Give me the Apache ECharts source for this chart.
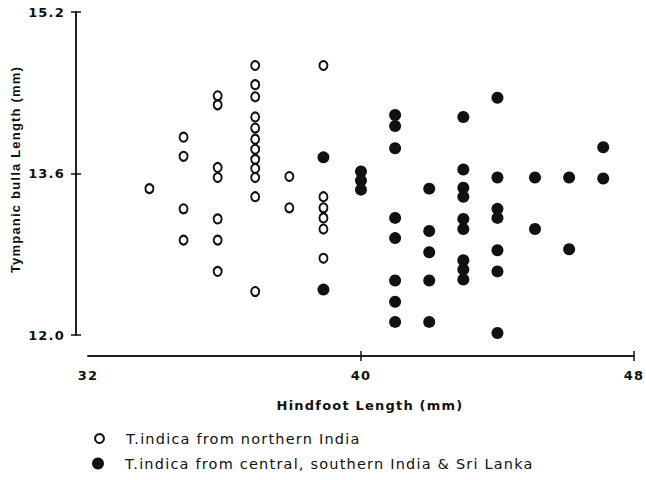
<!DOCTYPE html>
<html>
<head>
<meta charset="utf-8">
<script src="https://cdn.jsdelivr.net/npm/echarts@6/dist/echarts.min.js"></script>
<style>
  html, body { margin: 0; padding: 0; background: #fff; }
  #chart { width: 646px; height: 480px; }
  /* the scanned figure uses wide letter spacing */
  #chart text { letter-spacing: 1.2px; }
</style>
</head>
<body>
<div id="chart"></div>
<script>
// Hindfoot length (mm), tympanic bulla length (mm)
const northernIndia = [
  [33.8, 13.45],
  [34.8, 13.96], [34.8, 13.77], [34.8, 13.25], [34.8, 12.94],
  [35.8, 14.37], [35.8, 14.28], [35.8, 13.66], [35.8, 13.56], [35.8, 13.15], [35.8, 12.94], [35.8, 12.63],
  [36.9, 14.67], [36.9, 14.48], [36.9, 14.36], [36.9, 14.16], [36.9, 14.05], [36.9, 13.94],
  [36.9, 13.84], [36.9, 13.74], [36.9, 13.65], [36.9, 13.56], [36.9, 13.37], [36.9, 12.43],
  [37.9, 13.57], [37.9, 13.26],
  [38.9, 14.67], [38.9, 13.37], [38.9, 13.26], [38.9, 13.16], [38.9, 13.05], [38.9, 12.76]
];

const centralSouthernIndiaSriLanka = [
  [38.9, 13.76], [38.9, 12.45],
  [40.0, 13.62], [40.0, 13.53], [40.0, 13.44],
  [41.0, 14.18], [41.0, 14.07], [41.0, 13.85], [41.0, 13.16], [41.0, 12.96], [41.0, 12.54], [41.0, 12.33], [41.0, 12.13],
  [42.0, 13.45], [42.0, 13.03], [42.0, 12.82], [42.0, 12.54], [42.0, 12.13],
  [43.0, 14.16], [43.0, 13.64], [43.0, 13.46], [43.0, 13.37], [43.0, 13.15], [43.0, 13.05], [43.0, 12.74], [43.0, 12.65], [43.0, 12.55],
  [44.0, 14.35], [44.0, 13.56], [44.0, 13.25], [44.0, 13.16], [44.0, 12.84], [44.0, 12.63], [44.0, 12.02],
  [45.1, 13.56], [45.1, 13.05],
  [46.1, 13.56], [46.1, 12.85],
  [47.1, 13.86], [47.1, 13.55]
];

const seriesNames = [
  'T.indica from northern India',
  'T.indica from central, southern India & Sri Lanka'
];

const xTicks = [40, 48];

const font = 'DejaVu Sans';
const ink = '#111';

const chart = echarts.init(document.getElementById('chart'), null, { renderer: 'svg' });

const yBase = {
  type: 'value',
  position: 'left',
  offset: 12,
  min: 12.0,
  max: 15.2,
  interval: 1.6,
  splitLine: { show: false },
  axisLine: { show: true, lineStyle: { color: ink, width: 1.5 } },
};

const xBase = {
  type: 'value',
  position: 'bottom',
  offset: 21,
  min: 32,
  max: 48,
  interval: 8,
  splitLine: { show: false },
  axisLine: { show: true, onZero: false, lineStyle: { color: ink, width: 1.5 } },
};

const legendText = { fontFamily: font, fontSize: 14.5, color: ink };

chart.setOption({
  animation: false,
  backgroundColor: '#fff',
  grid: { left: 88, right: 8, top: 12, bottom: 145 },
  xAxis: [
    {
      ...xBase,
      name: 'Hindfoot Length (mm)',
      nameLocation: 'middle',
      nameGap: 43,
      nameTextStyle: { fontFamily: font, fontSize: 13, fontWeight: 'bold', color: ink, padding: [0, 0, 0, 18] },
      axisTick: { show: true, length: 5, customValues: xTicks, lineStyle: { color: ink, width: 1.5 } },
      axisLabel: { margin: 13, fontFamily: font, fontWeight: 'bold', fontSize: 13, color: ink },
    },
    {
      ...xBase,
      axisTick: { show: true, inside: true, length: 5, customValues: xTicks, lineStyle: { color: ink, width: 1.5 } },
      axisLabel: { show: false },
    },
  ],
  yAxis: [
    {
      ...yBase,
      name: 'Tympanic bulla Length (mm)',
      nameLocation: 'middle',
      nameGap: 54,
      nameTextStyle: { fontFamily: 'Liberation Sans', fontSize: 13, fontWeight: 'bold', color: ink, padding: [0, 0, 0, 8] },
      axisTick: { show: true, length: 5, lineStyle: { color: ink, width: 1.5 } },
      axisLabel: {
        margin: 11,
        fontFamily: font,
        fontWeight: 'bold',
        fontSize: 13,
        color: ink,
        formatter: v => v.toFixed(1),
      },
    },
    {
      ...yBase,
      axisTick: { show: true, inside: true, length: 5, lineStyle: { color: ink, width: 1.5 } },
      axisLabel: { show: false },
    },
  ],
  legend: [
    {
      left: 89,
      top: 426,
      itemWidth: 9,
      itemHeight: 9,
      textStyle: { ...legendText, padding: [0, 0, 0, 17] },
      data: [{ name: seriesNames[0], icon: 'circle', itemStyle: { color: '#fff', borderColor: ink, borderWidth: 2 } }],
    },
    {
      left: 87,
      top: 451,
      itemWidth: 12,
      itemHeight: 12,
      textStyle: { ...legendText, padding: [0, 0, 0, 16] },
      data: [{ name: seriesNames[1], icon: 'circle', itemStyle: { color: ink, borderWidth: 0 } }],
    },
  ],
  series: [
    {
      name: seriesNames[0],
      type: 'scatter',
      symbol: 'emptyCircle',
      symbolSize: [8, 9],
      itemStyle: { color: ink, borderWidth: 2, opacity: 1 },
      data: northernIndia,
    },
    {
      name: seriesNames[1],
      type: 'scatter',
      symbol: 'circle',
      symbolSize: 12,
      itemStyle: { color: ink, borderWidth: 0, opacity: 1 },
      data: centralSouthernIndiaSriLanka,
    },
  ],
});
</script>
</body>
</html>
